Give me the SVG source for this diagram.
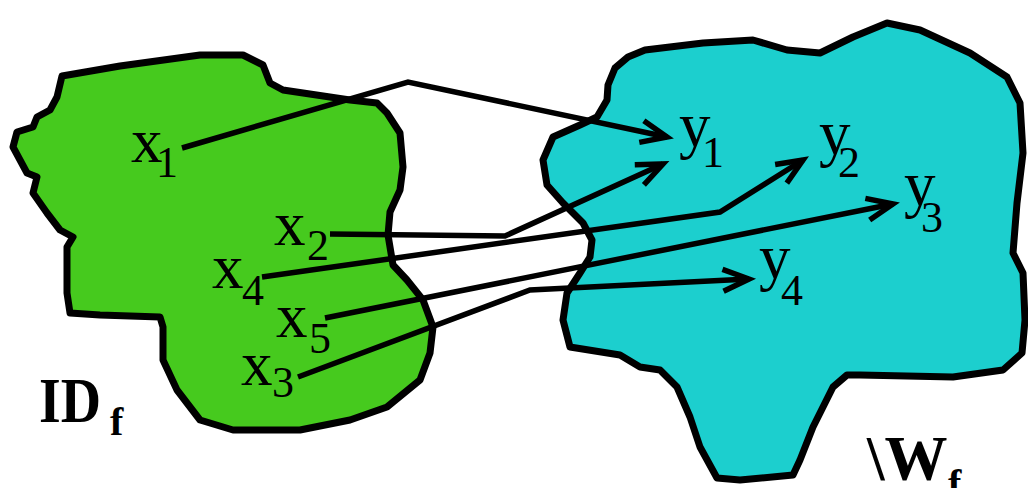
<svg xmlns="http://www.w3.org/2000/svg" width="1028" height="488" viewBox="0 0 1028 488">
<style>
.blob{stroke:#000;stroke-width:7;stroke-linejoin:round}
.conn{fill:none;stroke:#000;stroke-width:5.5;stroke-linejoin:miter;marker-end:url(#ah)}
.lbl{font-family:"Liberation Serif","Times New Roman",serif;fill:#000}
.main{font-size:63px}
.sub{font-size:44px}
.big{font-family:"Liberation Serif","Times New Roman",serif;font-weight:bold;fill:#000}
</style>
<defs>
<marker id="ah" markerUnits="userSpaceOnUse" markerWidth="40" markerHeight="40" refX="0" refY="0" orient="auto" overflow="visible">
<path d="M-26,-11 L0,0 L-26,11" fill="none" stroke="#000" stroke-width="5.5" stroke-linejoin="miter"/>
</marker>
</defs>
<rect width="1028" height="488" fill="#fff"/>
<g id="domain">
<polygon class="blob" fill="#46CA1E" points="62,76 120,66 200,55 243,55 263,65 270,83 283,90 350,100 377,103 387,113 400,133 403,167 400,190 390,212 388,235 393,265 407,280 423,300 433,327 430,353 420,380 387,407 350,420 300,430 233,430 200,420 177,390 163,360 163,327 160,317 100,315 70,313 67,293 67,247 73,237 60,230 47,213 33,193 37,177 27,173 20,160 13,147 17,132 33,127 37,117 50,110 57,97"/>
</g>
<g id="range">
<polygon class="blob" fill="#1CCFCE" points="608,85 615,68 628,57 645,50 703,43 753,40 787,50 820,53 853,37 887,23 920,30 970,53 1007,77 1020,103 1023,153 1017,203 1013,253 1023,273 1025,320 1022,353 1003,370 953,377 860,375 847,375 833,387 813,427 800,460 793,475 740,480 717,478 700,447 690,417 677,387 660,370 640,367 620,355 570,347 563,320 567,293 580,273 590,257 592,240 583,223 563,203 547,185 543,160 553,137 580,125 597,117 607,100"/>
</g>
<g id="connectors">
<polyline class="conn" points="182,148 408,82 667,137"/>
<polyline class="conn" points="330,234 505,236 663,164"/>
<polyline class="conn" points="262,277 720,212 803,160"/>
<polyline class="conn" points="325,318 893,204"/>
<polyline class="conn" points="298,377 530,290 749,279"/>
</g>
<g id="x1"><text class="lbl main" x="131" y="162">x</text><text class="lbl sub" x="156" y="177">1</text></g>
<g id="x2"><text class="lbl main" x="274" y="245">x</text><text class="lbl sub" x="307" y="260">2</text></g>
<g id="x4"><text class="lbl main" x="212" y="288">x</text><text class="lbl sub" x="242" y="305">4</text></g>
<g id="x5"><text class="lbl main" x="276" y="337">x</text><text class="lbl sub" x="309" y="353">5</text></g>
<g id="x3"><text class="lbl main" x="241" y="385">x</text><text class="lbl sub" x="272" y="397">3</text></g>
<g id="y1"><text class="lbl main" x="679" y="146">y</text><text class="lbl sub" x="702" y="167">1</text></g>
<g id="y2"><text class="lbl main" x="819" y="154">y</text><text class="lbl sub" x="838" y="177">2</text></g>
<g id="y3"><text class="lbl main" x="904" y="205">y</text><text class="lbl sub" x="921" y="232">3</text></g>
<g id="y4"><text class="lbl main" x="759" y="278">y</text><text class="lbl sub" x="781" y="305">4</text></g>
<g id="label-domain"><text class="big" x="39" y="422" font-size="63" textLength="62" lengthAdjust="spacingAndGlyphs">ID</text><text class="big" x="110" y="435" font-size="40">f</text></g>
<g id="label-range"><text class="big" x="867" y="480" font-size="63">\W</text><text class="big" x="948" y="497" font-size="40">f</text></g>
</svg>
